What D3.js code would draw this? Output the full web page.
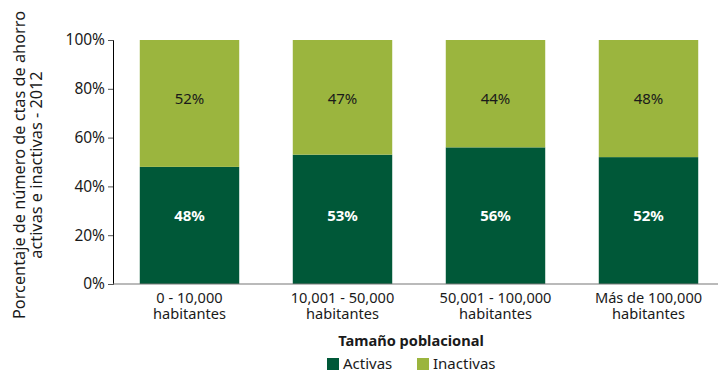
<!DOCTYPE html>
<html>
<head>
<meta charset="utf-8">
<script src="https://cdn.jsdelivr.net/npm/d3@7"></script>
<style>
  body { margin: 0; background: #fff; }
  text { font-family: "Noto Sans", "DejaVu Sans", sans-serif; fill: #1a1a1a; }
</style>
</head>
<body>
<svg id="chart" width="718" height="373"></svg>
<script>
const categories = ["0 - 10,000|habitantes", "10,001 - 50,000|habitantes", "50,001 - 100,000|habitantes", "Más de 100,000|habitantes"];
const activas = [48, 53, 56, 52];
const inactivas = [52, 47, 44, 48];
const seriesNames = ["Activas", "Inactivas"];
const colors = ["#005838", "#9bb53e"];
const yTicks = [0, 20, 40, 60, 80, 100];
const labelLevels = [28, 76]; // value labels sit at fixed heights

const svg = d3.select("#chart");
const mLeft = 113, mRight = 725, mTop = 40, mBottom = 284;

const x = d3.scaleBand().domain(categories).range([mLeft, mRight]).paddingInner(0.35).paddingOuter(0.175);
const y = d3.scaleLinear().domain([0, 100]).range([mBottom, mTop]);

const rows = categories.map((c, i) => ({ cat: c, Activas: activas[i], Inactivas: inactivas[i] }));
const stacked = d3.stack().keys(seriesNames)(rows);

// bars
const layers = svg.append("g").selectAll("g")
  .data(stacked)
  .enter().append("g")
  .attr("fill", (d, i) => colors[i]);

layers.selectAll("rect")
  .data(d => d)
  .enter().append("rect")
  .attr("x", d => x(d.data.cat))
  .attr("width", x.bandwidth())
  .attr("y", d => y(d[1]))
  .attr("height", d => y(d[0]) - y(d[1]));

// value labels
stacked.forEach((layer, li) => {
  svg.append("g").selectAll("text")
    .data(layer)
    .enter().append("text")
    .attr("x", d => x(d.data.cat) + x.bandwidth() / 2)
    .attr("y", y(labelLevels[li]) + 5)
    .attr("text-anchor", "middle")
    .style("font-size", "15px")
    .style("font-weight", li === 0 ? "bold" : "normal")
    .style("fill", li === 0 ? "#ffffff" : "#1a1a1a")
    .text(d => (d[1] - d[0]) + "%");
});

// y axis
const yAxis = svg.append("g")
  .attr("transform", `translate(${mLeft},0)`)
  .call(d3.axisLeft(y).tickValues(yTicks).tickSize(5).tickFormat(d => d + "%"));
yAxis.select(".domain").attr("stroke", "#000");
yAxis.selectAll(".tick line").attr("stroke", "#555");
yAxis.selectAll(".tick text")
  .attr("x", -8)
  .style("font-size", "15.5px")
  .style("font-family", "'Noto Sans', sans-serif")
  .attr("fill", "#1a1a1a");

// x baseline
svg.append("line")
  .attr("x1", mLeft).attr("x2", 718)
  .attr("y1", y(0)).attr("y2", y(0))
  .attr("stroke", "#777").attr("stroke-width", 1.2);

// category labels
const catG = svg.append("g").selectAll("text")
  .data(categories)
  .enter().append("text")
  .attr("text-anchor", "middle")
  .attr("x", d => x(d) + x.bandwidth() / 2)
  .attr("y", 303)
  .style("font-size", "14.6px");
catG.each(function (d) {
  const parts = d.split("|");
  d3.select(this).selectAll("tspan")
    .data(parts)
    .enter().append("tspan")
    .attr("x", x(d) + x.bandwidth() / 2)
    .attr("dy", (p, i) => i === 0 ? 0 : 15.5)
    .text(p => p);
});

// axis titles
svg.append("text")
  .attr("x", 411).attr("y", 346)
  .attr("text-anchor", "middle")
  .style("font-size", "14.6px").style("font-weight", "bold")
  .text("Tamaño poblacional");

const yt = svg.append("text")
  .attr("transform", "translate(25,165) rotate(-90)")
  .attr("text-anchor", "middle")
  .style("font-size", "16.3px");
yt.append("tspan").attr("x", 0).attr("dy", 0).text("Porcentaje de número de ctas de ahorro");
yt.append("tspan").attr("x", 0).attr("dy", 17).text("activas e inactivas - 2012");

// legend
const legX = [327, 417];
seriesNames.forEach((s, i) => {
  svg.append("rect").attr("x", legX[i]).attr("y", 358).attr("width", 12).attr("height", 12).attr("fill", colors[i]);
  svg.append("text").attr("x", legX[i] + 16).attr("y", 369).style("font-size", "15px").text(s);
});
</script>
</body>
</html>
